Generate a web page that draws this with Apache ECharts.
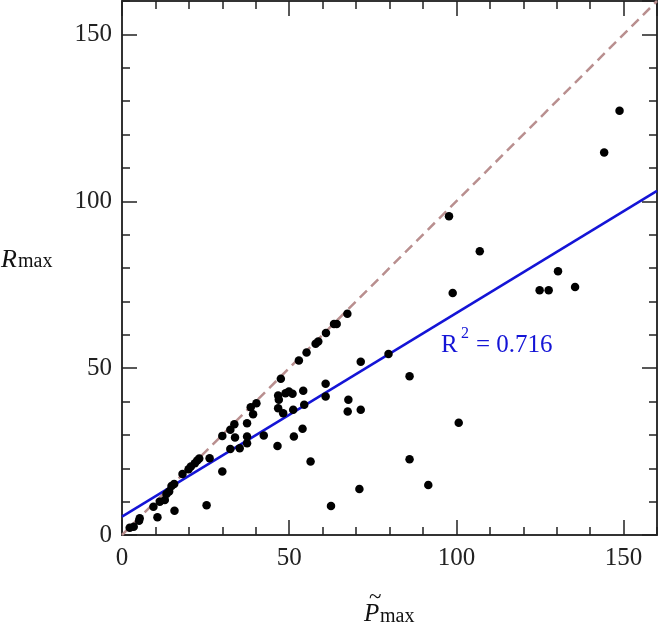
<!DOCTYPE html>
<html><head><meta charset="utf-8">
<script src="https://cdn.jsdelivr.net/npm/echarts@6/dist/echarts.min.js"></script>
<style>html,body{margin:0;padding:0;background:#fff}#c{width:658px;height:625px}</style>
</head><body><div id="c"></div>
<script>
// Data
const pMax = [2.3,3.5,5.3,5.1,9.4,10.6,11.3,12.8,13.3,14.1,14.8,15.6,15.7,18.1,19.9,20.6,21.8,22.5,23.1,25.3,26.2,30.0,30.0,32.4,32.4,33.6,33.8,35.2,37.4,37.4,37.4,38.5,39.2,40.2,42.4,46.5,46.7,46.9,46.7,47.5,48.2,48.9,49.9,51.0,51.2,51.4,54.2,54.5,54.0,52.9,55.2,56.4,57.9,58.7,61.0,60.9,60.9,62.5,63.4,64.2,67.4,67.7,67.5,71.0,71.4,71.4,79.7,86.0,86.0,91.6,98.9,100.7,124.9,127.6,130.4,135.5,97.8,107.0,144.2,148.8];
const rMax = [2.2,2.5,5.0,4.3,8.5,5.3,10.0,10.5,12.3,13.0,14.7,15.3,7.3,18.3,19.7,20.5,21.5,22.3,22.9,8.9,23.0,19.0,29.7,25.8,31.5,33.2,29.2,26.0,27.5,29.5,33.5,38.3,36.2,39.5,29.8,26.7,41.8,40.5,38.0,46.8,36.5,42.5,43.0,42.3,37.5,29.5,43.2,39.0,31.8,52.3,54.7,22.0,57.3,58.0,60.5,45.3,41.5,8.7,63.2,63.2,66.3,40.5,37.0,13.8,51.9,37.5,54.2,47.6,22.7,15.0,72.5,33.6,73.3,73.3,79.0,74.3,95.5,85.0,114.6,127.1];
const fitX = [0, 160];
const fitY = [5.5, 103.1];
const identityX = [0, 160];
const identityY = [0, 160];
const r2Value = '0.716';
const axisMin = 0, axisMax = 160, majorStep = 50, minorStep = 10;

const FONT = 'Liberation Serif';
const frameColor = '#333';
function xAx(pos, step, len, labels, line) {
  return {
    type: 'value', position: pos, min: axisMin, max: axisMax, interval: step,
    axisLine: {show: line, onZero: false, lineStyle: {color: frameColor, width: 2}},
    axisTick: {show: true, inside: true, length: len, lineStyle: {color: '#222', width: 1.5}},
    axisLabel: {show: labels, showMaxLabel: false, margin: 11, fontFamily: FONT, fontSize: 25, color: '#222'},
    splitLine: {show: false}
  };
}
function yAx(pos, step, len, labels, line) {
  return {
    type: 'value', position: pos, min: axisMin, max: axisMax, interval: step,
    axisLine: {show: line, onZero: false, lineStyle: {color: frameColor, width: 2}},
    axisTick: {show: true, inside: true, length: len, lineStyle: {color: '#222', width: 1.5}},
    axisLabel: {show: labels, showMaxLabel: false, margin: 10, fontFamily: FONT, fontSize: 25, color: '#222'},
    splitLine: {show: false}
  };
}
const pts = pMax.map((x, i) => [x, rMax[i]]);
const blue = '#1414d6';
function txt(x, y, text, font, fill) {
  return {type: 'text', x: x, y: y, style: {text: text, font: font, fill: fill || '#111', verticalAlign: 'middle', align: 'left'}};
}
const chart = echarts.init(document.getElementById('c'), null, {renderer: 'canvas'});
chart.setOption({
  animation: false,
  backgroundColor: '#fff',
  grid: {left: 122, right: 1, top: 1, bottom: 90, containLabel: false},
  xAxis: [xAx('bottom', majorStep, 15, true, true), xAx('top', majorStep, 15, false, true),
          xAx('bottom', minorStep, 8, false, false), xAx('top', minorStep, 8, false, false)],
  yAxis: [yAx('left', majorStep, 15, true, true), yAx('right', majorStep, 15, false, true),
          yAx('left', minorStep, 8, false, false), yAx('right', minorStep, 8, false, false)],
  series: [
    {type: 'line', data: identityX.map((x, i) => [x, identityY[i]]), symbol: 'none',
     lineStyle: {color: '#b98f8f', width: 2.5, type: [10, 6]}, z: 1},
    {type: 'line', data: fitX.map((x, i) => [x, fitY[i]]), symbol: 'none',
     lineStyle: {color: blue, width: 2.5}, z: 2},
    {type: 'scatter', data: pts, symbol: 'circle', symbolSize: 8.5,
     itemStyle: {color: '#000', opacity: 1}, z: 3}
  ],
  graphic: [
    txt(1, 260, 'R', 'italic 26px ' + FONT),
    txt(18, 262, 'max', '20px ' + FONT),
    txt(364, 614, 'P', 'italic 25px ' + FONT),
    txt(369, 598, '~', '23px ' + FONT),
    txt(380, 617, 'max', '20px ' + FONT),
    txt(441, 345, 'R', '25px ' + FONT, blue),
    txt(461, 334, '2', '16px ' + FONT, blue),
    txt(476, 345, '= ' + r2Value, '25px ' + FONT, blue)
  ]
});
</script></body></html>
